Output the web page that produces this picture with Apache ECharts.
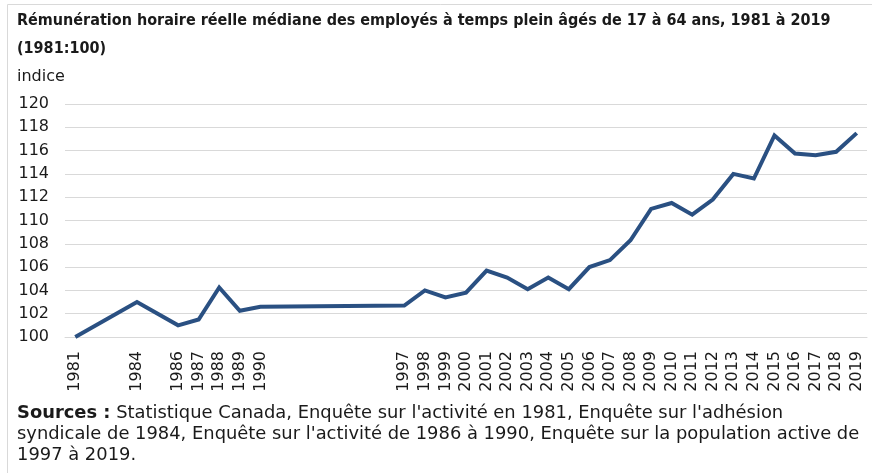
<!DOCTYPE html>
<html>
<head>
<meta charset="utf-8">
<script src="https://cdn.jsdelivr.net/npm/echarts@6/dist/echarts.min.js"></script>
<style>
  html, body { margin: 0; padding: 0; background: #fff; }
  #chart { width: 872px; height: 473px; }
</style>
</head>
<body>
<div id="chart"></div>
<script>
  // années avec données (axe proportionnel au temps)
  const years = [1981, 1984, 1986, 1987, 1988, 1989, 1990, 1997, 1998, 1999, 2000,
    2001, 2002, 2003, 2004, 2005, 2006, 2007, 2008, 2009, 2010, 2011, 2012, 2013,
    2014, 2015, 2016, 2017, 2018, 2019]
  // indice (1981:100)
  const indexValues = [100, 103.0, 101.0, 101.5, 104.25, 102.25, 102.6, 102.7, 104.0, 103.4, 103.8,
    105.7, 105.1, 104.1, 105.1, 104.1, 106.0, 106.6, 108.3, 111.0, 111.5, 110.5, 111.8, 114.0,
    113.6, 117.3, 115.75, 115.6, 115.9, 117.5]
  const yTicks = [100, 102, 104, 106, 108, 110, 112, 114, 116, 118, 120]

  const chart = echarts.init(document.getElementById('chart'))

  chart.setOption({
    animation: false,
    graphic: [
      {
        type: 'rect',
        shape: { x: 7.5, y: 4.5, width: 900, height: 500 },
        style: { fill: 'none', stroke: '#d9d9d9', lineWidth: 1 },
        silent: true
      }
    ],
    title: [
      {
        text: 'Rémunération horaire réelle médiane des employés à temps plein âgés de 17 à 64 ans, 1981 à 2019\n(1981:100)',
        left: 17,
        top: 7,
        padding: 0,
        textStyle: {
          fontFamily: '"DejaVu Sans Condensed", Lato, sans-serif',
          fontWeight: 'bold',
          fontSize: 16,
          lineHeight: 28,
          color: '#1a1a1a'
        }
      },
      {
        text: 'indice',
        left: 17,
        top: 67,
        padding: 0,
        textStyle: { fontFamily: 'DejaVu Sans', fontWeight: 'normal', fontSize: 16, lineHeight: 20, color: '#1a1a1a' }
      },
      {
        text: '{b|Sources :} Statistique Canada, Enquête sur l\'activité en 1981, Enquête sur l\'adhésion\nsyndicale de 1984, Enquête sur l\'activité de 1986 à 1990, Enquête sur la population active de\n1997 à 2019.',
        left: 17,
        top: 403,
        padding: 0,
        textStyle: {
          fontFamily: 'DejaVu Sans',
          fontWeight: 'normal',
          fontSize: 17.9,
          lineHeight: 21,
          color: '#1a1a1a',
          rich: {
            b: { fontFamily: 'DejaVu Sans', fontWeight: 'bold', fontSize: 17.9, lineHeight: 21, color: '#1a1a1a' }
          }
        }
      }
    ],
    grid: {
      left: 65,
      right: 5,
      top: 104,
      bottom: 136
    },
    xAxis: {
      type: 'value',
      min: 1980.5,
      max: 2019.5,
      splitLine: { show: false },
      axisTick: { show: false },
      axisLine: { show: true, lineStyle: { color: '#d9d9d9', width: 1 } },
      axisLabel: {
        customValues: years,
        formatter: v => String(v),
        rotate: 90,
        margin: 14,
        fontFamily: 'DejaVu Sans',
        fontSize: 16,
        color: '#1a1a1a',
        hideOverlap: false
      }
    },
    yAxis: {
      type: 'value',
      min: 100,
      max: 120,
      interval: 2,
      axisLine: { show: false },
      axisTick: { show: false },
      splitLine: { show: true, lineStyle: { color: '#d9d9d9', width: 1 } },
      axisLabel: {
        customValues: yTicks,
        margin: 16,
        fontFamily: 'DejaVu Sans',
        fontSize: 16,
        color: '#1a1a1a'
      }
    },
    series: [
      {
        type: 'line',
        data: years.map((y, i) => [y, indexValues[i]]),
        symbol: 'none',
        lineStyle: { color: '#2a5082', width: 4, join: 'miter' }
      }
    ]
  })
</script>
</body>
</html>
